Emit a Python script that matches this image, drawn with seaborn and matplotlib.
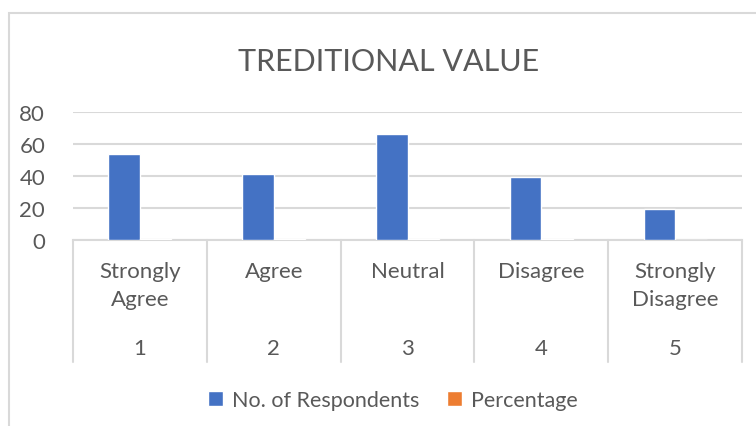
import matplotlib
matplotlib.use("Agg")
import matplotlib.pyplot as plt
import matplotlib.transforms as mtransforms
from matplotlib.patches import Rectangle, Patch
import seaborn as sns
import pandas as pd

# ---- data ----
categories = ["Strongly\nAgree", "Agree", "Neutral", "Disagree", "Strongly\nDisagree"]
codes = ["1", "2", "3", "4", "5"]
respondents = [54, 41, 66, 39, 19]
percentage = [0.25, 0.19, 0.30, 0.18, 0.09]
series_names = ["No. of Respondents", "Percentage"]
title = "TREDITIONAL VALUE"
yticks = [0, 20, 40, 60, 80]

colors = ["#4472C4", "#ED7D31"]
text_color = "#595959"
grid_color = "#D9D9D9"

sns.set_theme(style="white")
plt.rcParams["font.family"] = ["Lato", "DejaVu Sans"]

rows = []
for i, c in enumerate(categories):
    rows.append({"cat": codes[i], "series": series_names[0], "value": respondents[i]})
    rows.append({"cat": codes[i], "series": series_names[1], "value": percentage[i]})
df = pd.DataFrame(rows)

W, H = 756, 427
fig = plt.figure(figsize=(W / 100, H / 100), dpi=100)
fig.patch.set_facecolor("white")

left, right = 73 / W, 742 / W
bottom, top = 1 - 240.7 / H, 1 - 113 / H
ax = fig.add_axes([left, bottom, right - left, top - bottom])

sns.barplot(data=df, x="cat", y="value", hue="series", palette=colors,
            width=0.47, saturation=1, ax=ax, legend=False, zorder=3)

fs = 16
ax.set_xlim(-0.5, 4.5)
ax.set_ylim(0, 80)
ax.set_yticks(yticks)
ax.set_yticklabels([str(t) for t in yticks], fontsize=fs, color=text_color)
ax.tick_params(axis="y", length=0, pad=20)
ax.set_xticks([])
ax.set_xlabel("")
ax.set_ylabel("")
ax.grid(axis="y", color=grid_color, linewidth=1.5, zorder=0)
ax.set_axisbelow(True)
for s in ["top", "right", "left"]:
    ax.spines[s].set_visible(False)
ax.spines["bottom"].set_color(grid_color)
ax.spines["bottom"].set_linewidth(1.5)

# category table below axis
tr = mtransforms.blended_transform_factory(ax.transData, fig.transFigure)
y_top = 1 - 240.7 / H
y_bot = 1 - 363 / H
for i in range(len(categories) + 1):
    xb = i - 0.5
    ax.plot([xb, xb], [y_top, y_bot], transform=tr, color=grid_color,
            linewidth=1.5, clip_on=False)
line_y = [272, 300]
for i, (name, code) in enumerate(zip(categories, codes)):
    for j, part in enumerate(name.split("\n")):
        ax.text(i, 1 - line_y[j] / H, part, transform=tr, ha="center", va="center",
                fontsize=fs, color=text_color)
    ax.text(i, 1 - 349 / H, code, transform=tr, ha="center", va="center",
            fontsize=fs, color=text_color)

# title
fig.text(389 / W, 1 - 62 / H, title, ha="center", va="center",
         fontsize=22, color=text_color)

# legend
handles = [Patch(facecolor=colors[0]), Patch(facecolor=colors[1])]
fig.legend(handles, series_names, loc="center", bbox_to_anchor=(393 / W, 1 - 401 / H),
           ncol=2, frameon=False, fontsize=15.5, labelcolor=text_color,
           handlelength=0.7, handleheight=0.7, handletextpad=0.4, columnspacing=1.3)

# chart border
fig.add_artist(Rectangle((9 / W, -0.1), 1.2, (1 - 13.5 / H) + 0.1,
                         transform=fig.transFigure, fill=False,
                         edgecolor=grid_color, linewidth=1.5))

fig.savefig("out.png", dpi=100, facecolor="white")
